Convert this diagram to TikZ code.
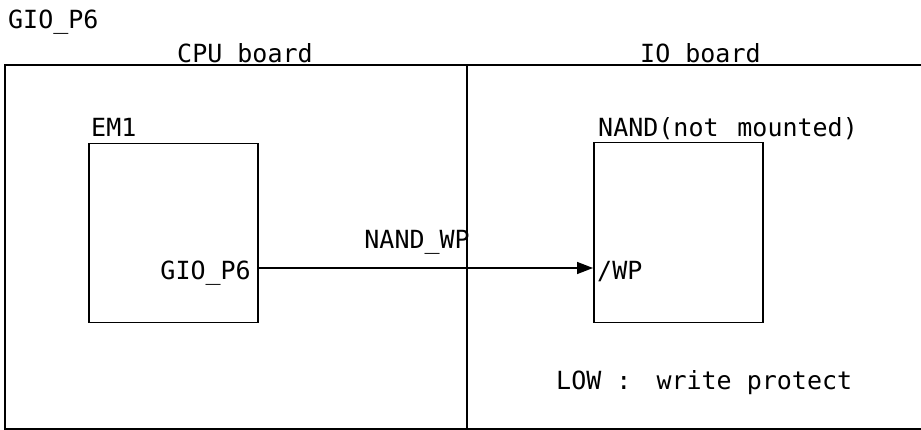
\documentclass[tikz,border=0pt]{standalone}
\usepackage{fontspec}
\setmainfont{DejaVu Sans Mono}
\usetikzlibrary{arrows.meta}
\begin{document}
\begin{tikzpicture}[x=1pt,y=-1pt,
  wire/.style={line width=1.5pt,black},
  lbl/.style={inner sep=0pt,font=\fontsize{25}{29}\selectfont},
  chip/.style={draw,line width=1.5pt,inner sep=0pt}]
\useasboundingbox (0,0) rectangle (921,430);
\clip (0,0) rectangle (921,430);
% boards
\draw[wire] (940,65) -- (5,65) -- (5,429) -- (940,429);
\draw[wire] (467,65) coordinate (divtop) -- (467,429) coordinate (divbot);
% chips
\node[chip,minimum width=169pt,minimum height=179pt,anchor=north west] (em1) at (88,143) {};
\node[chip,minimum width=169pt,minimum height=180pt,anchor=north west] (nand) at (593,142) {};
% labels
\node[lbl,anchor=base west] (title) at (8,29) {GIO\_P6};
\node[lbl,anchor=base west] (cpu) at (177,63) {CPU board};
\node[lbl,anchor=base west] (io) at (640,63) {IO board};
\node[lbl,anchor=base west] (em1lbl) at (91,137) {EM1};
\node[lbl,anchor=base west] (nandlbl) at (598,137) {NAND(not\hspace{0.15em} mounted)};
\node[lbl,anchor=base east] (gio) at (251,280) {GIO\_P6};
\node[lbl,anchor=base east] (wpnet) at (470,249) {NAND\_WP};
\node[lbl,anchor=base west] (wp) at (597,280) {/WP};
\node[lbl,anchor=base west] (low) at (556,389) {LOW :\hspace{0.4em} write protect};
% signal
\coordinate (sig) at (0,268);
\draw[wire,-{Triangle[length=16pt,width=12pt]}] (em1.east |- sig) -- (nand.west |- sig);
\end{tikzpicture}
\end{document}
